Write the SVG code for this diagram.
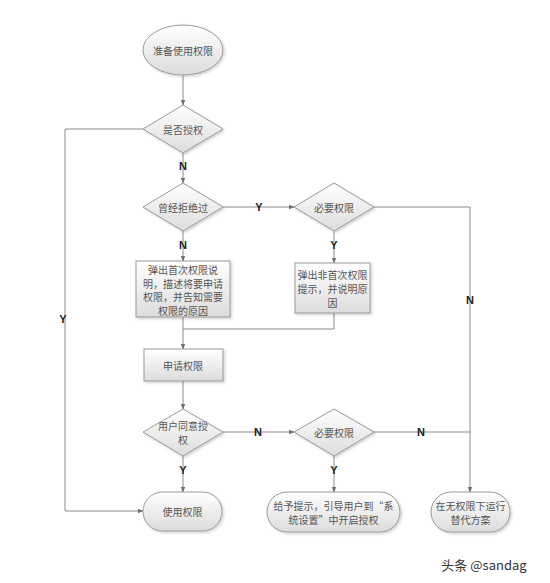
<svg xmlns="http://www.w3.org/2000/svg" width="550" height="583" viewBox="0 0 550 583">
<defs>
<linearGradient id="g" x1="0" y1="0" x2="0" y2="1">
<stop offset="0" stop-color="#ffffff"/>
<stop offset="1" stop-color="#dcdcdc"/>
</linearGradient>
<marker id="ah" viewBox="0 0 10 10" refX="9" refY="5" markerWidth="6" markerHeight="6" orient="auto" markerUnits="userSpaceOnUse">
<path d="M0,1 L10,5 L0,9 z" fill="#707070"/>
</marker>
<filter id="sh" x="-10%" y="-10%" width="130%" height="140%">
<feDropShadow dx="1.5" dy="1.5" stdDeviation="1" flood-color="#000" flood-opacity="0.18"/>
</filter>
</defs>
<style>
.s{fill:url(#g);stroke:#9a9a9a;stroke-width:1;filter:url(#sh)}
.t{font-family:"Noto Sans CJK SC","Liberation Serif",serif;font-size:10px;fill:#555;text-anchor:middle;dominant-baseline:central}
.c{fill:none;stroke:#8c8c8c;stroke-width:1}
.ca{fill:none;stroke:#8c8c8c;stroke-width:1;marker-end:url(#ah)}
.l{font-family:"Liberation Sans",Arial,sans-serif;font-size:11px;font-weight:bold;fill:#222;text-anchor:middle;dominant-baseline:central}
</style>
<rect width="550" height="583" fill="#ffffff"/>

<g id="connectors">
<path class="ca" d="M183,75 L183,105"/>
<path class="ca" d="M143,129 L65,129 L65,511 L143,511"/>
<path class="ca" d="M183,153 L183,183"/>
<path class="ca" d="M223,207 L294,207"/>
<path class="c" d="M374,207 L470,207 L470,432"/>
<path class="ca" d="M470,432 L470,492"/>
<path class="ca" d="M183,231 L183,261"/>
<path class="ca" d="M334,231 L334,263"/>
<path class="ca" d="M183,317 L183,349"/>
<path class="c" d="M334,313 L334,329 L183,329"/>
<path class="ca" d="M183,381 L183,409"/>
<path class="ca" d="M223,432 L294,432"/>
<path class="c" d="M374,432 L470,432"/>
<path class="ca" d="M183,456 L183,492"/>
<path class="ca" d="M334,456 L334,492"/>
<text class="l" x="183" y="166">N</text>
<text class="l" x="63" y="319">Y</text>
<text class="l" x="259" y="207">Y</text>
<text class="l" x="183" y="245">N</text>
<text class="l" x="334" y="245">Y</text>
<text class="l" x="470" y="300">N</text>
<text class="l" x="258" y="432">N</text>
<text class="l" x="421" y="432">N</text>
<text class="l" x="183" y="470">Y</text>
<text class="l" x="334" y="470">Y</text>
</g>

<g id="start">
<ellipse class="s" cx="183" cy="50" rx="40" ry="25"/>
<text class="t" x="183" y="50">准备使用权限</text>
</g>

<g id="d1">
<polygon class="s" points="183,105 223,129 183,153 143,129"/>
<text class="t" x="183" y="129">是否授权</text>
</g>

<g id="d2">
<polygon class="s" points="183,183 223,207 183,231 143,207"/>
<text class="t" x="183" y="207">曾经拒绝过</text>
</g>

<g id="d3">
<polygon class="s" points="334,183 374,207 334,231 294,207"/>
<text class="t" x="334" y="207">必要权限</text>
</g>

<g id="box1">
<rect class="s" x="136" y="261" width="94" height="56"/>
<text class="t" x="183" y="269.5">弹出首次权限说</text>
<text class="t" x="183" y="283">明，描述将要申请</text>
<text class="t" x="183" y="296.5">权限，并告知需要</text>
<text class="t" x="183" y="310">权限的原因</text>
</g>

<g id="box2">
<rect class="s" x="295" y="263" width="75" height="50"/>
<text class="t" x="332.5" y="274">弹出非首次权限</text>
<text class="t" x="332.5" y="288">提示，并说明原</text>
<text class="t" x="332.5" y="302">因</text>
</g>

<g id="request">
<rect class="s" x="144" y="349" width="79" height="32"/>
<text class="t" x="183" y="365">申请权限</text>
</g>

<g id="d4">
<polygon class="s" points="183,409 223,432 183,456 143,432"/>
<text class="t" x="183" y="425.5">用户同意授</text>
<text class="t" x="183" y="439.5">权</text>
</g>

<g id="d5">
<polygon class="s" points="334,409 374,432 334,456 294,432"/>
<text class="t" x="334" y="432">必要权限</text>
</g>

<g id="use">
<rect class="s" x="143" y="492" width="79" height="39" rx="19.5"/>
<text class="t" x="182.5" y="511.5">使用权限</text>
</g>

<g id="guide">
<rect class="s" x="267" y="492" width="133" height="40" rx="20"/>
<text class="t" x="333.5" y="505">给予提示，引导用户到“系</text>
<text class="t" x="333.5" y="519">统设置”中开启授权</text>
</g>

<g id="alt">
<rect class="s" x="431" y="492" width="79" height="40" rx="20"/>
<text class="t" x="470.5" y="505">在无权限下运行</text>
<text class="t" x="470.5" y="519">替代方案</text>
</g>

<text x="484" y="564" font-family="'Noto Sans CJK SC','Liberation Sans',sans-serif" font-size="13" fill="#333" text-anchor="middle" dominant-baseline="central">头条 @sandag</text>
</svg>
